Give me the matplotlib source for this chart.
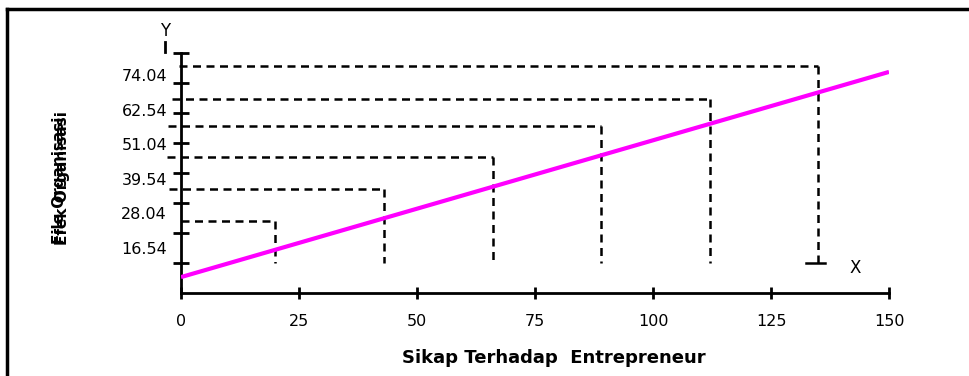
import numpy as np
import matplotlib
matplotlib.use('Agg')
import matplotlib.pyplot as plt
from matplotlib.lines import Line2D

plt.rcParams['font.family'] = ['DejaVu Sans']

# regression line (Sikap Terhadap Entrepreneur -> y)
line_x = [0, 150]
line_y = [5.3, 73.7]

# dashed guide lines: x positions and their heights
guide_x = [20, 43, 66, 89, 112, 135]
guide_y = [24.0, 34.6, 45.4, 55.7, 64.8, 75.6]
guide_start = [0, -2.5, -3.0, -2.8, -2.0, -0.5]
guide_base = 10

# tick labels on the y axis
y_labels = [16.54, 28.04, 39.54, 51.04, 62.54, 74.04]
x_ticks = [0, 25, 50, 75, 100, 125, 150]
y_minor = [10, 20, 30, 40, 50, 60, 70, 80]

fig = plt.figure(figsize=(9.69, 3.76), dpi=100)
ax = fig.add_axes([181 / 969, 83 / 376, 708 / 969, 240 / 376])

# frame around the chart (only left and top visible)
fig.add_artist(Line2D([7 / 969, 7 / 969], [0, 1 - 9 / 376], color='black', lw=2.5,
                      transform=fig.transFigure))
fig.add_artist(Line2D([7 / 969, 1], [1 - 9 / 376, 1 - 9 / 376], color='black', lw=2.5,
                      transform=fig.transFigure))

ax.plot(line_x, line_y, color='#FF00FF', lw=3, zorder=3, solid_capstyle='butt')

for gs, gx, gy in zip(guide_start, guide_x, guide_y):
  ax.plot([gs, gx], [gy, gy], color='black', lw=1.8, ls=(0, (3.2, 2.2)), clip_on=False)
  ax.plot([gx, gx], [gy, guide_base], color='black', lw=1.8, ls=(0, (3.2, 2.2)), clip_on=False)

# end bar under last guide line
ax.plot([guide_x[-1] - 2.6, guide_x[-1] + 1.4], [guide_base, guide_base], color='black', lw=1.8)

ax.set_xlim(0, 150)
ax.set_ylim(0, 80)
for s in ['top', 'right']:
  ax.spines[s].set_visible(False)
for s in ['left', 'bottom']:
  ax.spines[s].set_linewidth(2)

ax.set_xticks(x_ticks)
ax.tick_params(axis='x', direction='inout', length=8, width=2, labelsize=11.5, pad=11)
ax.set_yticks([v - 1.5 for v in y_labels])
ax.set_yticklabels([f'{v:.2f}' for v in y_labels])
ax.set_yticks(y_minor, minor=True)
ax.tick_params(axis='y', which='major', length=0, labelsize=11.5, pad=10)
ax.tick_params(axis='y', which='minor', direction='inout', length=11, width=2)

ax.set_xlabel('Sikap Terhadap  Entrepreneur', fontweight='bold', fontsize=13)
ax.xaxis.set_label_coords(0.527, -0.235)

# garbled overlapping y label as in the original
ax.text(-0.172, 0.47, 'File Organisasi', rotation=90, fontweight='bold', fontsize=11,
        ha='center', va='center', transform=ax.transAxes)
ax.text(-0.168, 0.48, 'Efek Organisasi', rotation=90, fontweight='bold', fontsize=11,
        ha='center', va='center', transform=ax.transAxes)

# axis names
ax.text(-3.4, 87.5, 'Y', fontsize=12, ha='center', va='center', clip_on=False)
ax.plot([-3.4, -3.4], [80.3, 83.7], color='black', lw=2, clip_on=False)
ax.text(142.8, 8.3, 'X', fontsize=12, ha='center', va='center')

fig.savefig('out.png', dpi=100)
